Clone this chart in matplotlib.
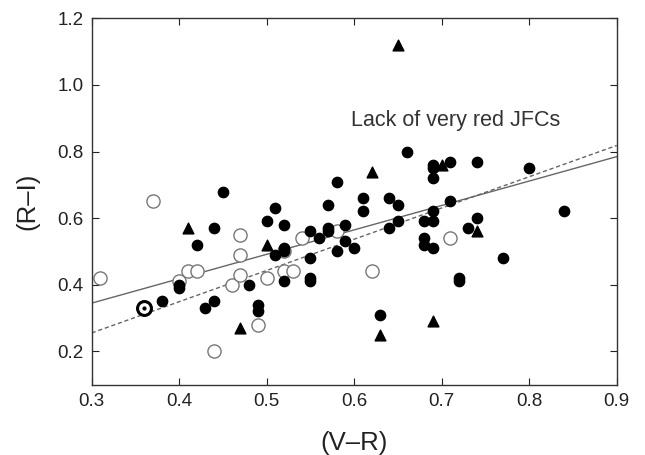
import matplotlib
matplotlib.use("Agg")
import matplotlib.pyplot as plt
import numpy as np

plt.rcParams['font.family'] = ['Liberation Sans', 'DejaVu Sans']

# filled circles
filled_vr = [0.45, 0.66, 0.58, 0.51, 0.57, 0.61, 0.61, 0.64, 0.65, 0.69, 0.69, 0.69, 0.71, 0.74,
             0.80, 0.84, 0.71, 0.69, 0.69, 0.68, 0.68, 0.68, 0.69, 0.73, 0.74, 0.77, 0.72, 0.72,
             0.63, 0.64, 0.65, 0.59, 0.59, 0.60, 0.58, 0.57, 0.57, 0.56, 0.55, 0.55, 0.55, 0.55,
             0.52, 0.52, 0.52, 0.51, 0.50, 0.52, 0.48, 0.49, 0.49, 0.44, 0.42, 0.40, 0.40, 0.38,
             0.43, 0.44]
filled_ri = [0.68, 0.80, 0.71, 0.63, 0.64, 0.66, 0.62, 0.66, 0.64, 0.76, 0.75, 0.72, 0.77, 0.77,
             0.75, 0.62, 0.65, 0.62, 0.59, 0.59, 0.54, 0.52, 0.51, 0.57, 0.60, 0.48, 0.42, 0.41,
             0.31, 0.57, 0.59, 0.58, 0.53, 0.51, 0.50, 0.57, 0.56, 0.54, 0.56, 0.48, 0.42, 0.41,
             0.58, 0.51, 0.50, 0.49, 0.59, 0.41, 0.40, 0.34, 0.32, 0.57, 0.52, 0.40, 0.39, 0.35,
             0.33, 0.35]

# open circles
open_vr = [0.31, 0.37, 0.40, 0.41, 0.42, 0.44, 0.46, 0.47, 0.47, 0.47, 0.49, 0.50, 0.52, 0.53,
           0.52, 0.54, 0.58, 0.62, 0.71]
open_ri = [0.42, 0.65, 0.41, 0.44, 0.44, 0.20, 0.40, 0.55, 0.49, 0.43, 0.28, 0.42, 0.44, 0.44,
           0.50, 0.54, 0.56, 0.44, 0.54]

# triangles
tri_vr = [0.65, 0.62, 0.70, 0.41, 0.50, 0.74, 0.47, 0.63, 0.69]
tri_ri = [1.12, 0.74, 0.76, 0.57, 0.52, 0.56, 0.27, 0.25, 0.29]

# Sun
sun_vr = [0.36]
sun_ri = [0.33]

# fit lines: slope, intercept
solid_fit = [0.733, 0.125]
dashed_fit = [0.938, -0.026]

xticks = [0.3, 0.4, 0.5, 0.6, 0.7, 0.8, 0.9]
yticks = [0.2, 0.4, 0.6, 0.8, 1.0, 1.2]

fig = plt.figure(figsize=(6.45, 4.55), dpi=100)
ax = fig.add_axes([91.7 / 645, 1 - 384.7 / 455, (616.7 - 91.7) / 645, (384.7 - 18.3) / 455])

xl = np.array([0.3, 0.9])
ax.plot(xl, solid_fit[0] * xl + solid_fit[1], color='#666666', lw=1.0, zorder=1)
ax.plot(xl, dashed_fit[0] * xl + dashed_fit[1], color='#666666', lw=1.0, ls=(0, (3, 2)), zorder=1)

ax.scatter(open_vr, open_ri, s=90, facecolors='white', edgecolors='#777777', linewidths=1.0, zorder=2)
ax.scatter(filled_vr, filled_ri, s=55, color='black', zorder=3)
ax.scatter(tri_vr, tri_ri, s=60, marker='^', color='black', zorder=3)
ax.scatter(sun_vr, sun_ri, s=100, facecolors='white', edgecolors='black', linewidths=2.2, zorder=4)
ax.scatter(sun_vr, sun_ri, s=4, color='black', zorder=5)

ax.text(0.596, 0.893, 'Lack of very red JFCs', fontsize=15.5, color='#333333', va='center', ha='left')

ax.set_xlim(0.3, 0.9)
ax.set_ylim(0.1, 1.2)
ax.set_xticks(xticks)
ax.set_yticks(yticks)
ax.set_xticklabels([f'{v:.1f}' for v in xticks])
ax.set_yticklabels([f'{v:.1f}' for v in yticks])
ax.tick_params(direction='in', top=True, right=True, labelsize=13.5, colors='#222222', length=5, pad=6)
for sp in ax.spines.values():
    sp.set_color('#333333')
    sp.set_linewidth(1.0)
ax.set_xlabel('(V–R)', fontsize=18.5, color='#222222', labelpad=15)
ax.set_ylabel('(R–I)', fontsize=18.5, color='#222222', labelpad=13)

fig.savefig('out.png', dpi=100)
